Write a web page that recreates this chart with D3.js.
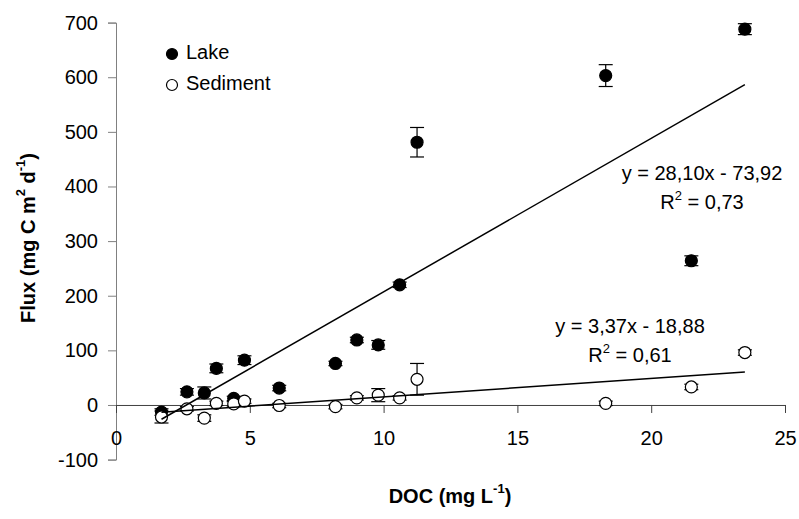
<!DOCTYPE html>
<html>
<head>
<meta charset="utf-8">
<script src="https://cdn.jsdelivr.net/npm/d3@7"></script>
<style>
  body { margin: 0; background: #fff; }
  svg { display: block; font-family: "Liberation Sans", Arial, sans-serif; }
  .g-tick { font-size: 20px; fill: #000; }
  .g-title { font-size: 20px; font-weight: bold; fill: #000; }
  .g-eq { font-size: 20px; fill: #000; }
</style>
</head>
<body>
<div id="chart"></div>
<script>

// DOC (mg L-1), shared by both series
let doc = [1.7, 2.65, 3.3, 3.75, 4.4, 4.8, 6.1, 8.2, 9.0, 9.8, 10.6, 11.25, 18.3, 21.5, 23.5];

// flux (mg C m-2 d-1)
let lake = [-13, 24, 22, 67, 12, 82, 31, 76, 119, 110, 220, 481, 603, 264, 688];
let lakeErr = [6, 6, 11, 8, 4, 8, 5, 4, 5, 8, 5, 27, 20, 9, 10];

let sediment = [-22, -7, -24, 3, 2, 7, -1, -3, 13, 18, 13, 47, 3, 33, 96];
let sedimentErr = [11, 4, 6, 4, 4, 4, 4, 4, 4, 12, 4, 29, 4, 5, 5];

// trendlines as printed on the chart
let fits = [
    {name: "Lake", slope: 28.10, icept: -73.92, eq: "y = 28,10x - 73,92", r2: "0,73", lx: 702, ly: 175},
    {name: "Sediment", slope: 3.37, icept: -18.88, eq: "y = 3,37x - 18,88", r2: "0,61", lx: 630, ly: 328}
];

let xTicks = [0, 5, 10, 15, 20, 25];
let yTicks = [-100, 0, 100, 200, 300, 400, 500, 600, 700];

let width = 799, height = 519;

let svg = d3.select("#chart").append("svg")
    .attr("width", width)
    .attr("height", height);

let x = d3.scaleLinear().domain([0, 25]).range([116, 785]);
let y = d3.scaleLinear().domain([-100, 700]).range([459.6, 22.6]);

// y axis (left edge)
let yAxis = d3.axisLeft(y).tickValues(yTicks).tickSize(8).tickPadding(10).tickFormat(d => String(d));
let gy = svg.append("g").attr("transform", "translate(" + x(0) + ",0)").call(yAxis);
gy.select(".domain").attr("stroke", "#808080");
gy.selectAll(".tick line").attr("stroke", "#808080");
gy.selectAll(".tick text").attr("class", "g-tick");
gy.attr("font-size", null).attr("font-family", null);

// x axis sits at y = 0
let xAxis = d3.axisBottom(x).tickValues(xTicks).tickSizeInner(8).tickSizeOuter(0).tickPadding(0).tickFormat(d => String(d));
let gx = svg.append("g").attr("transform", "translate(0," + y(0) + ")").call(xAxis);
gx.select(".domain").attr("stroke", "#404040");
gx.selectAll(".tick line").attr("stroke", "#404040");
gx.selectAll(".tick text").attr("class", "g-tick").attr("dy", null).attr("y", 35).attr("dominant-baseline", "middle");
gx.attr("font-size", null).attr("font-family", null);

// error bars
let series = [
    {name: "Lake", vals: lake, err: lakeErr, fill: "#000"},
    {name: "Sediment", vals: sediment, err: sedimentErr, fill: "#fff"}
];

series.forEach(function(s){
    let g = svg.append("g").attr("class", "g-err g-" + s.name);
    doc.forEach(function(d, i){
        let cx = x(d), y0 = y(s.vals[i] - s.err[i]), y1 = y(s.vals[i] + s.err[i]);
        g.append("line").attr("x1", cx).attr("x2", cx).attr("y1", y0).attr("y2", y1);
        g.append("line").attr("x1", cx - 7).attr("x2", cx + 7).attr("y1", y0).attr("y2", y0);
        g.append("line").attr("x1", cx - 7).attr("x2", cx + 7).attr("y1", y1).attr("y2", y1);
    });
    g.selectAll("line").attr("stroke", "#000").attr("stroke-width", 1.2);
});

// markers
series.forEach(function(s){
    svg.append("g").selectAll("circle")
        .data(doc)
        .join("circle")
        .attr("cx", d => x(d))
        .attr("cy", (d, i) => y(s.vals[i]))
        .attr("r", 6)
        .attr("fill", s.fill)
        .attr("stroke", "#000")
        .attr("stroke-width", 1.2);
});

// trendlines over the data range
let xmin = d3.min(doc), xmax = d3.max(doc);
fits.forEach(function(f){
    svg.append("line")
        .attr("x1", x(xmin)).attr("y1", y(f.slope * xmin + f.icept))
        .attr("x2", x(xmax)).attr("y2", y(f.slope * xmax + f.icept))
        .attr("stroke", "#000")
        .attr("stroke-width", 1.5);

    svg.append("text").attr("class", "g-eq")
        .attr("x", f.lx).attr("y", f.ly)
        .attr("text-anchor", "middle").attr("dominant-baseline", "middle")
        .text(f.eq);

    let r = svg.append("text").attr("class", "g-eq")
        .attr("x", f.lx).attr("y", f.ly + 29)
        .attr("text-anchor", "middle").attr("dominant-baseline", "middle");
    r.append("tspan").text("R");
    r.append("tspan").attr("font-size", 13).attr("dy", -7).text("2");
    r.append("tspan").attr("dy", 7).text(" = " + f.r2);
});

// legend
let legend = svg.append("g");
series.forEach(function(s, i){
    let ly = 54 + i * 31;
    legend.append("circle").attr("cx", 172).attr("cy", ly).attr("r", 5.5)
        .attr("fill", s.fill).attr("stroke", "#000").attr("stroke-width", 1.2);
    legend.append("text").attr("class", "g-eq")
        .attr("x", 186).attr("y", ly).attr("dominant-baseline", "middle")
        .text(s.name);
});

// axis titles
let xt = svg.append("text").attr("class", "g-title")
    .attr("x", 450).attr("y", 498).attr("text-anchor", "middle").attr("dominant-baseline", "middle");
xt.append("tspan").text("DOC (mg L");
xt.append("tspan").attr("font-size", 13).attr("dy", -8).text("-1");
xt.append("tspan").attr("dy", 8).text(")");

let yt = svg.append("text").attr("class", "g-title")
    .attr("transform", "translate(30,238) rotate(-90)")
    .attr("text-anchor", "middle").attr("dominant-baseline", "middle");
yt.append("tspan").text("Flux (mg C m");
yt.append("tspan").attr("font-size", 13).attr("dy", -8).text("2");
yt.append("tspan").attr("dy", 8).text(" d");
yt.append("tspan").attr("font-size", 13).attr("dy", -8).text("-1");
yt.append("tspan").attr("dy", 8).text(")");

</script>
</body>
</html>
